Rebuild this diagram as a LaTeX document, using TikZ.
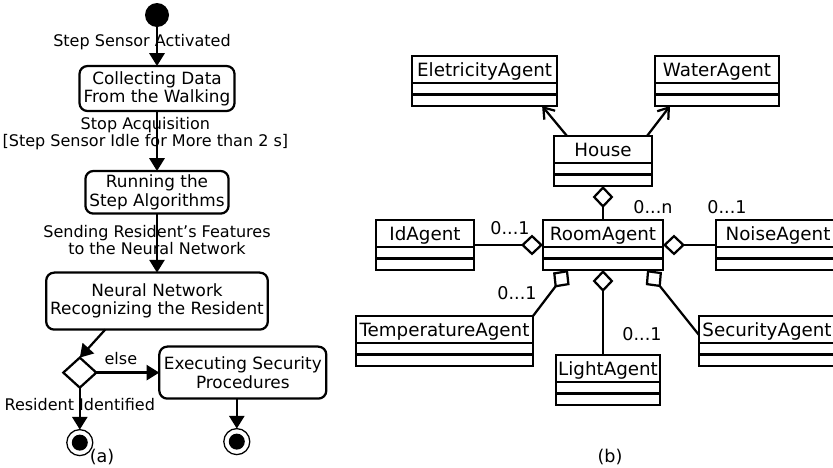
\documentclass[tikz,border=0pt]{standalone}
\usepackage{fontspec}
\setmainfont{DejaVu Sans}
\usetikzlibrary{positioning,arrows.meta,shapes.geometric,calc}

\begin{document}
\begin{tikzpicture}[x=0.25mm, y=-0.25mm, line width=1.6pt,
  every node/.style={outer sep=0pt},
  >={Triangle[length=3.2mm,width=3.8mm]},
  act/.style={draw, rounded corners=2mm, align=center, inner sep=1mm,
    font=\fontsize{12}{13}\selectfont},
  lbl/.style={align=center, inner sep=0pt, font=\fontsize{11.4}{10.5}\selectfont},
  initst/.style={circle, fill, minimum size=6mm, inner sep=0pt},
  finalst/.style={circle, draw, line width=0.9pt, minimum size=6.5mm, inner sep=0pt,
    path picture={\fill (path picture bounding box.center) circle (2mm);}},
  decide/.style={diamond, draw, minimum width=8.25mm, minimum height=7.5mm, inner sep=0pt},
  cls/.style={draw, inner xsep=0.5mm, inner ysep=0pt, text height=5mm, text depth=7.5mm,
    font=\fontsize{13}{14}\selectfont,
    path picture={
      \draw ($(path picture bounding box.south west)+(0,2.875mm)$) -- ($(path picture bounding box.south east)+(0,2.875mm)$);
      \draw ($(path picture bounding box.south west)+(0,5.75mm)$) -- ($(path picture bounding box.south east)+(0,5.75mm)$);}},
  agg/.style={{Diamond[open,length=5.5mm,width=5.2mm]}-},
  nav/.style={-{Straight Barb[length=2.5mm,width=3.5mm]}},
  mult/.style={inner sep=0pt, font=\fontsize{12.5}{14}\selectfont}]
  \useasboundingbox (0,0) rectangle (833,467);

  % (a) activity diagram
  \node[initst] (start) at (157,15) {};
  \node[act, below=9.75mm of start, minimum width=38.75mm, minimum height=11.25mm] (collect) {Collecting Data\\From the Walking};
  \node[act, below=15mm of collect, minimum width=35.75mm, minimum height=10mm] (running) {Running the\\Step Algorithms};
  \node[act, below=14.75mm of running, minimum width=54.25mm, minimum height=14.25mm] (neural) {Neural Network\\Recognizing the Resident};
  \node[decide, below=7mm of neural.south west, xshift=8.4mm] (dec) {};
  \node[act, right=15.75mm of dec, minimum width=41.75mm, minimum height=13mm] (secur) {Executing Security\\Procedures};
  \node[finalst, below=10.5mm of dec] (fin1) {};
  \node[finalst, below=7.5mm of secur, xshift=-1.5mm] (fin2) {};

  \draw[->] (start) -- node[lbl, pos=0.38, xshift=-3.75mm] {Step Sensor Activated} (collect);
  \draw[->] (collect) -- node[lbl, pos=0.38, xshift=-2.9mm] {Stop Acquisition\\{[}Step Sensor Idle for More than 2 s]} (running);
  \draw[->] (running) -- node[lbl, pos=0.45] {Sending Resident's Features\\to the Neural Network} (neural);
  \draw[->] ([xshift=14.75mm]neural.south west) -- (dec.north);
  \draw[->] (dec.east) -- node[lbl, above=2mm, pos=0.39] {else} (secur.west);
  \draw[->] (dec) -- node[lbl, pos=0.4] {Resident Identified} (fin1);
  \draw[->] (secur.south -| fin2) -- (fin2);

  \node[mult] (capa) at (102,457) {(a)};

  % (b) class diagram
  \node[cls, minimum width=24.5mm] (house) at (603,161) {House};
  \node[cls, minimum width=36.25mm, above=7.5mm of house, xshift=-29.6mm] (elec) {EletricityAgent};
  \node[cls, minimum width=31mm, above=7.5mm of house, xshift=28.5mm] (water) {WaterAgent};
  \node[cls, minimum width=30mm, below=8.5mm of house] (room) {RoomAgent};
  \node[cls, minimum width=24.5mm, left=17.25mm of room] (idag) {IdAgent};
  \node[cls, minimum width=31mm, right=13.25mm of room] (noise) {NoiseAgent};
  \node[cls, minimum width=44.25mm, below left=11.5mm and 2.5mm of room] (temp) {TemperatureAgent};
  \node[cls, minimum width=26mm, below=21.25mm of room, xshift=1.25mm] (light) {LightAgent};
  \node[cls, minimum width=34mm, below right=11.5mm and 9mm of room] (secag) {SecurityAgent};

  \draw[nav] ([xshift=3.25mm]house.north west) -- ([xshift=-3.75mm]elec.south east);
  \draw[nav] ([xshift=-1.25mm]house.north east) -- ([xshift=3.75mm]water.south west);
  \draw[agg] (house) -- (room);
  \draw[agg] (room) -- (idag);
  \draw[agg] (room) -- (noise);
  \draw[agg] ([xshift=6.25mm]room.south west) -- (temp.north east);
  \draw[agg] (room.south) -- (room.south |- light.north);
  \draw[agg] ([xshift=-4mm]room.south east) -- ([yshift=1.5mm]secag.west);

  % multiplicities
  \node[mult] (mroom) at ($(room.north east)+(-10,-13)$) {0...n};
  \node[mult] (mnoise) at ($(noise.north west)+(11,-13)$) {0...1};
  \node[mult] (midag) at ($(room.north west)+(-33,8)$) {0...1};
  \node[mult] (mtemp) at ($(temp.north east)+(-16,-23)$) {0...1};
  \node[mult] (mlight) at ($(light.north east)+(-18,-21)$) {0...1};

  \node[mult] (capb) at (610,457) {(b)};
\end{tikzpicture}
\end{document}
